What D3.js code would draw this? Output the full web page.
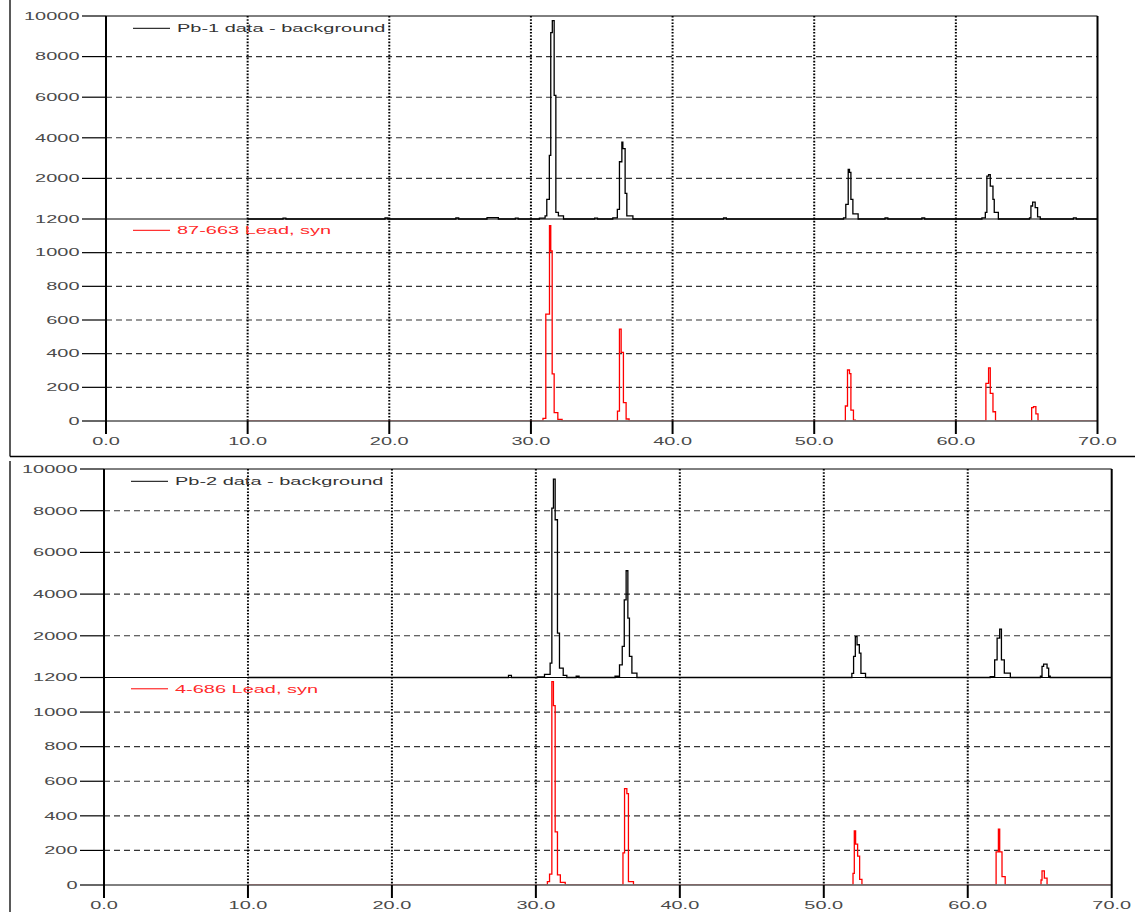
<!DOCTYPE html>
<html>
<head>
<meta charset="utf-8">
<script src="https://cdn.jsdelivr.net/npm/d3@7"></script>
<style>
  html, body { margin: 0; padding: 0; background: #fff; }
  svg { display: block; }
</style>
</head>
<body>
<svg id="chart" width="1135" height="912"></svg>
<script>
// Axis ticks (2-theta in degrees, counts)
const xTicks = [0, 10, 20, 30, 40, 50, 60, 70];
const upperTicks = [2000, 4000, 6000, 8000, 10000];
const lowerTicks = [0, 200, 400, 600, 800, 1000, 1200];

// Legend labels
const sampleNames = ["Pb-1 data - background", "Pb-2 data - background"];
const refNames = ["87-663 Lead, syn", "4-686 Lead, syn"];

// Measured patterns after background subtraction: [2theta, counts]
const pb1Counts = [
  [10.0, 0], [12.5, 40], [12.7, 0], [19.7, 50], [19.9, 0], [24.7, 50], [24.9, 0],
  [26.9, 70], [27.7, 0], [28.9, 40], [29.1, 0],
  [30.6, 40], [31.0, 150], [31.12, 970], [31.30, 3130], [31.40, 9180], [31.51, 9770],
  [31.64, 6090], [31.76, 330], [31.94, 150], [32.3, 0],
  [34.5, 40], [34.7, 0],
  [35.78, 60], [36.1, 475], [36.25, 2820], [36.42, 3780], [36.49, 3470], [36.65, 1260],
  [36.77, 150], [37.2, 0],
  [43.6, 50], [43.8, 0],
  [52.07, 60], [52.23, 720], [52.40, 2440], [52.49, 2300], [52.59, 970], [52.73, 250], [53.1, 0],
  [55.0, 50], [55.2, 0], [57.6, 50], [57.8, 0],
  [61.84, 60], [62.08, 330], [62.19, 2110], [62.31, 2190], [62.43, 1620], [62.62, 970],
  [62.71, 330], [63.0, 0],
  [65.2, 60], [65.3, 640], [65.42, 835], [65.6, 560], [65.77, 100], [65.96, 0],
  [68.3, 60], [68.5, 0], [70.0, 0]
];
const pb2Counts = [
  [10.0, 0], [28.1, 100], [28.3, 0],
  [30.1, 30], [30.6, 150], [30.99, 690], [31.11, 8125], [31.22, 9515], [31.34, 7565],
  [31.50, 2130], [31.64, 450], [31.9, 100], [32.15, 0],
  [32.8, 60], [33.0, 0],
  [35.5, 60], [35.81, 610], [36.0, 1490], [36.14, 3725], [36.27, 5120], [36.39, 2850],
  [36.50, 1010], [36.67, 210], [37.02, 0],
  [51.61, 0], [51.95, 200], [52.07, 1010], [52.19, 1965], [52.31, 1570], [52.47, 1170],
  [52.58, 200], [52.9, 0],
  [61.56, 40], [61.87, 850], [62.04, 1890], [62.22, 2320], [62.34, 850], [62.54, 210], [62.96, 0],
  [65.05, 60], [65.16, 530], [65.27, 640], [65.51, 450], [65.62, 60], [65.73, 0], [70.0, 0]
];

// Reference patterns for lead: [2theta, intensity]
const ref1Counts = [
  [10.0, 0], [30.6, 0], [30.85, 16], [31.05, 635], [31.31, 1160], [31.40, 1010], [31.50, 280],
  [31.64, 50], [31.9, 10], [32.2, 0],
  [35.9, 0], [36.11, 59], [36.25, 546], [36.37, 408], [36.53, 109], [36.72, 12], [36.93, 0],
  [52.0, 0], [52.2, 89], [52.35, 303], [52.49, 282], [52.59, 65], [52.77, 5], [52.9, 0],
  [61.9, 0], [62.12, 224], [62.31, 316], [62.43, 164], [62.62, 55], [62.8, 0],
  [65.25, 0], [65.35, 79], [65.48, 85], [65.65, 42], [65.8, 0], [70.0, 0]
];
const ref2Counts = [
  [10.0, 0], [30.5, 0], [30.8, 20], [30.95, 63], [31.11, 1176], [31.22, 1037], [31.34, 307],
  [31.50, 58], [31.7, 15], [32.04, 0],
  [35.9, 0], [36.05, 186], [36.16, 557], [36.32, 528], [36.43, 20], [36.78, 0],
  [51.95, 0], [52.03, 67], [52.12, 313], [52.21, 236], [52.35, 167], [52.49, 33], [52.65, 0],
  [61.85, 0], [61.97, 192], [62.13, 323], [62.22, 192], [62.38, 48], [62.6, 0],
  [65.0, 0], [65.09, 29], [65.16, 82], [65.32, 40], [65.51, 0], [70.0, 0]
];

const sampleSeries = [pb1Counts, pb2Counts];
const refSeries = [ref1Counts, ref2Counts];

// Frame / plot geometry for the two stacked panels
const panels = [
  { x0: 106, x1: 1097.5, top: 16,  mid: 219,   bottom: 421, frameTop: 0,   frameBottom: 456.5 },
  { x0: 104, x1: 1111.7, top: 469, mid: 677.5, bottom: 885, frameTop: 461, frameBottom: null }
];

const SX = 1.9;                // horizontal stretch of the lettering
const FONT = "'Liberation Sans', Arial, sans-serif";
const svg = d3.select("#chart");
const defs = svg.append("defs");

function label(g, x, y, str, anchor, fill) {
  return g.append("text")
    .attr("transform", `translate(${x},${y}) scale(${SX},1)`)
    .attr("text-anchor", anchor)
    .attr("font-family", FONT)
    .attr("font-size", "10.5px")
    .attr("fill", fill)
    .text(str);
}

panels.forEach((p, i) => {
  const g = svg.append("g");
  const x = d3.scaleLinear().domain([0, 70]).range([p.x0, p.x1]);
  const yUp = d3.scaleLinear().domain([0, 10000]).range([p.mid, p.top]);
  const yLo = d3.scaleLinear().domain([0, 1200]).range([p.bottom, p.mid]);

  // the reference pattern's zero line stays hidden under the x axis
  defs.append("clipPath").attr("id", `lo-clip-${i}`)
    .append("rect")
    .attr("x", p.x0).attr("y", p.mid)
    .attr("width", p.x1 - p.x0).attr("height", p.bottom - p.mid - 0.8);

  // outer frame
  g.append("line").attr("x1", 10).attr("x2", 10)
    .attr("y1", p.frameTop).attr("y2", p.frameBottom === null ? 912 : p.frameBottom)
    .attr("stroke", "#000").attr("stroke-width", 1.3);
  if (p.frameBottom !== null) {
    g.append("line").attr("x1", 10).attr("x2", 1135)
      .attr("y1", p.frameBottom).attr("y2", p.frameBottom)
      .attr("stroke", "#000").attr("stroke-width", 1.3);
  }

  // dashed horizontal grid
  const hGrid = upperTicks.filter(v => v < 10000).map(v => yUp(v))
    .concat(lowerTicks.filter(v => v > 0 && v < 1200).map(v => yLo(v)));
  g.selectAll(".hgrid").data(hGrid).join("line")
    .attr("x1", p.x0).attr("x2", p.x1)
    .attr("y1", d => d).attr("y2", d => d)
    .attr("stroke", "#333").attr("stroke-width", 1.1)
    .attr("stroke-dasharray", "6,4");

  // dotted vertical grid
  g.selectAll(".vgrid").data(xTicks.filter(v => v > 0 && v < 70)).join("line")
    .attr("x1", d => x(d)).attr("x2", d => x(d))
    .attr("y1", p.top).attr("y2", p.bottom)
    .attr("stroke", "#000").attr("stroke-width", 2)
    .attr("stroke-dasharray", "1.6,1.6");

  // patterns
  const lineUp = d3.line().x(d => x(d[0])).y(d => yUp(d[1])).curve(d3.curveStepAfter);
  const lineLo = d3.line().x(d => x(d[0])).y(d => yLo(d[1])).curve(d3.curveStepAfter);
  g.append("path").datum(sampleSeries[i]).attr("d", lineUp)
    .attr("fill", "none").attr("stroke", "#000").attr("stroke-width", 1.3);
  g.append("path").datum(refSeries[i]).attr("d", lineLo)
    .attr("clip-path", `url(#lo-clip-${i})`)
    .attr("fill", "none").attr("stroke", "#ff0000").attr("stroke-width", 1.3);

  // axis lines and borders
  g.append("line").attr("x1", p.x0).attr("x2", p.x1).attr("y1", p.top).attr("y2", p.top)
    .attr("stroke", "#000").attr("stroke-width", 1);
  g.append("line").attr("x1", p.x0).attr("x2", p.x1).attr("y1", p.mid).attr("y2", p.mid)
    .attr("stroke", "#000").attr("stroke-width", 1);
  g.append("line").attr("x1", p.x0).attr("x2", p.x1).attr("y1", p.bottom).attr("y2", p.bottom)
    .attr("stroke", "#000").attr("stroke-width", 1);
  g.append("line").attr("x1", p.x1).attr("x2", p.x1).attr("y1", p.top).attr("y2", p.bottom)
    .attr("stroke", "#000").attr("stroke-width", 2);
  g.append("line").attr("x1", p.x0).attr("x2", p.x0).attr("y1", p.top).attr("y2", p.bottom)
    .attr("stroke", "#000").attr("stroke-width", 2);

  // y ticks and labels
  const yTickList = upperTicks.map(v => ({ y: yUp(v), t: String(v) }))
    .concat(lowerTicks.map(v => ({ y: yLo(v), t: String(v) })));
  yTickList.forEach(d => {
    g.append("line").attr("x1", p.x0 - 24).attr("x2", p.x0)
      .attr("y1", d.y).attr("y2", d.y)
      .attr("stroke", "#000").attr("stroke-width", 1.2);
    label(g, p.x0 - 26.5, d.y + 3.8, d.t, "end", "#4a4a4a");
  });

  // x ticks and labels
  xTicks.forEach(v => {
    g.append("line").attr("x1", x(v)).attr("x2", x(v))
      .attr("y1", p.bottom).attr("y2", p.bottom + 13)
      .attr("stroke", "#000").attr("stroke-width", 2);
    label(g, x(v), p.bottom + 24, v.toFixed(1), "middle", "#4a4a4a");
  });

  // legends
  const lx = p.x0 + 27;
  const ly1 = p.top + 12.3, ly2 = p.mid + 11.3;
  g.append("line").attr("x1", lx).attr("x2", lx + 37).attr("y1", ly1).attr("y2", ly1)
    .attr("stroke", "#000").attr("stroke-width", 1);
  label(g, lx + 44, ly1 + 3.8, sampleNames[i], "start", "#333");
  g.append("line").attr("x1", lx).attr("x2", lx + 37).attr("y1", ly2).attr("y2", ly2)
    .attr("stroke", "#ff0000").attr("stroke-width", 1);
  label(g, lx + 44, ly2 + 3.8, refNames[i], "start", "#ff2a2a");
});
</script>
</body>
</html>
